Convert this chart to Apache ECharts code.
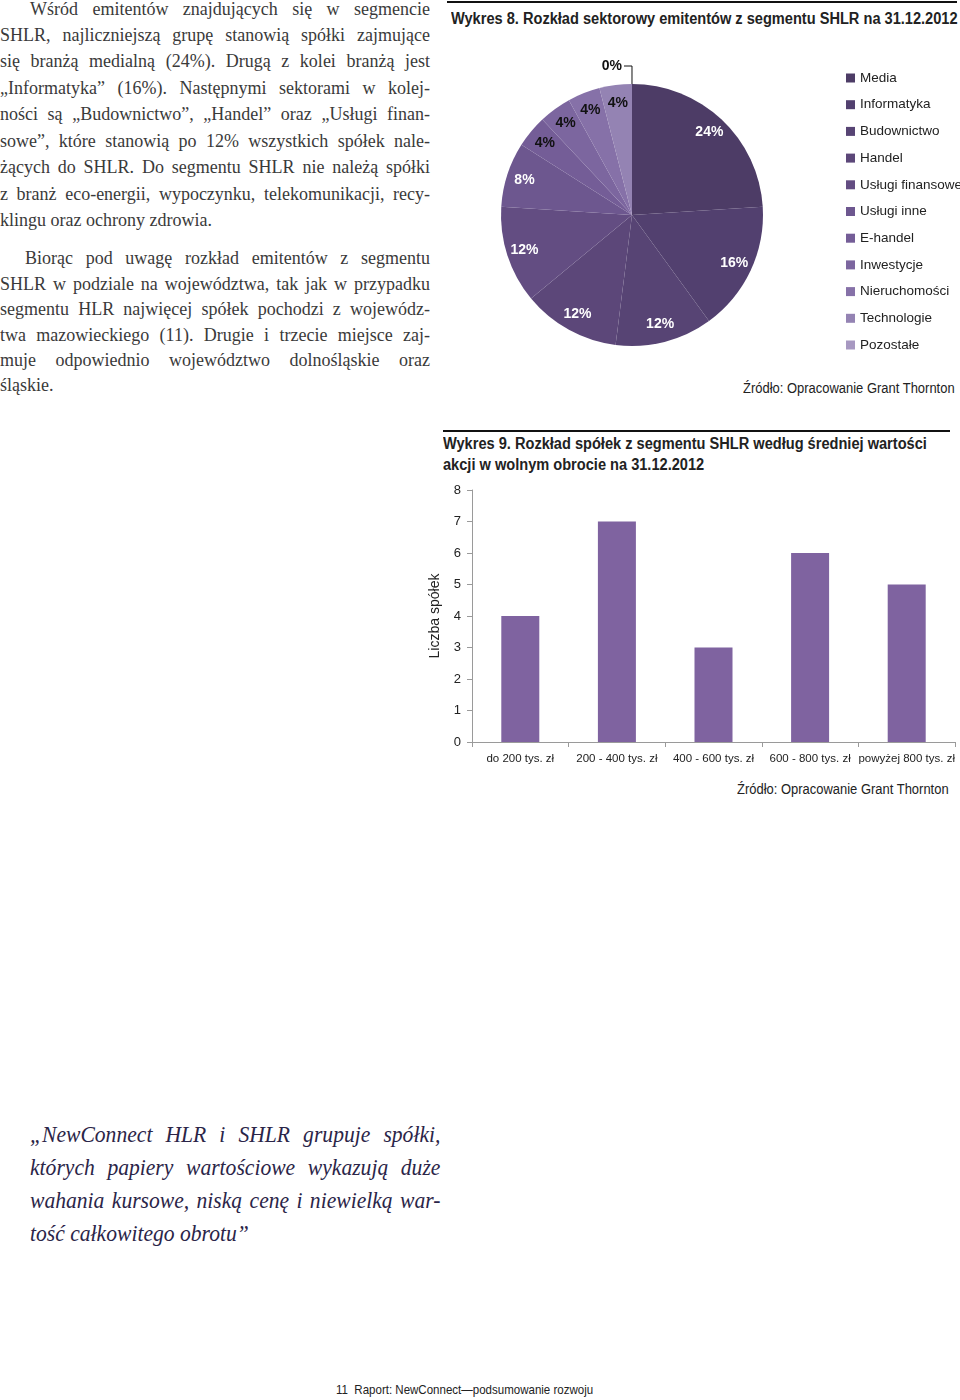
<!DOCTYPE html>
<html lang="pl">
<head>
<meta charset="utf-8">
<script src="https://cdn.jsdelivr.net/npm/echarts@6/dist/echarts.min.js"></script>
<style>
  html, body { margin:0; padding:0; background:#fff; }
  body { width:960px; height:1400px; position:relative; overflow:hidden; }
  .abs { position:absolute; }
  .para { font-family:"Liberation Serif","DejaVu Serif",serif; font-size:18px; color:#3a3a3a; }
  .line { position:absolute; left:0; width:430px; text-align:justify; text-align-last:justify; white-space:nowrap; }
  .line.last { text-align-last:left; }
  .quote { font-family:"Liberation Serif","DejaVu Serif",serif; font-style:italic; font-size:24px; color:#2b2548; }
  .qline { position:absolute; left:30px; width:456px; text-align:justify; text-align-last:justify; white-space:nowrap; transform:scaleX(0.9); transform-origin:0 50%; }
  .qline.last { text-align-last:left; }
  .sans { font-family:"Liberation Sans",Arial,sans-serif; white-space:nowrap; transform-origin:0 50%; }
  .rule { position:absolute; height:2px; background:#111; }
</style>
</head>
<body>
<div class="para">
  <div class="line" style="top:-1px;left:30px;width:400px;">Wśród emitentów znajdujących się w segmencie</div>
  <div class="line" style="top:25px;">SHLR, najliczniejszą grupę stanowią spółki zajmujące</div>
  <div class="line" style="top:51px;">się branżą medialną (24%). Drugą z kolei branżą  jest</div>
  <div class="line" style="top:78px;">„Informatyka” (16%). Następnymi sektorami w kolej-</div>
  <div class="line" style="top:104px;">ności są „Budownictwo”, „Handel” oraz „Usługi finan-</div>
  <div class="line" style="top:131px;">sowe”, które stanowią po 12% wszystkich spółek nale-</div>
  <div class="line" style="top:157px;">żących do SHLR. Do segmentu SHLR nie należą spółki</div>
  <div class="line" style="top:184px;">z branż eco-energii, wypoczynku, telekomunikacji, recy-</div>
  <div class="line last" style="top:210px;">klingu oraz ochrony zdrowia.</div>

  <div class="line" style="top:248px;left:25px;width:405px;">Biorąc pod uwagę rozkład emitentów z segmentu</div>
  <div class="line" style="top:274px;">SHLR w podziale na województwa, tak jak w przypadku</div>
  <div class="line" style="top:299px;">segmentu HLR najwięcej spółek pochodzi z wojewódz-</div>
  <div class="line" style="top:325px;">twa  mazowieckiego (11). Drugie i trzecie miejsce zaj-</div>
  <div class="line" style="top:350px;">muje odpowiednio województwo dolnośląskie oraz</div>
  <div class="line last" style="top:375px;">śląskie.</div>
</div>

<div class="rule" style="left:447px;top:1px;width:510px;"></div>
<div class="abs sans" style="left:451px;top:10px;font-size:16px;font-weight:bold;color:#222;transform:scaleX(0.912);">Wykres 8. Rozkład sektorowy emitentów z segmentu SHLR na 31.12.2012</div>
<div id="pie" class="abs" style="left:440px;top:40px;width:520px;height:330px;"></div>
<div class="abs sans" style="left:743px;top:380px;font-size:14px;color:#222;transform:scaleX(0.926);">Źródło: Opracowanie Grant Thornton</div>

<div class="rule" style="left:443px;top:430px;width:507px;"></div>
<div class="abs sans" style="left:443px;top:433px;font-size:16px;font-weight:bold;color:#222;line-height:21px;transform:scaleX(0.912);">Wykres 9. Rozkład spółek z segmentu SHLR według średniej wartości<br>akcji w wolnym obrocie na 31.12.2012</div>
<div id="bar" class="abs" style="left:420px;top:480px;width:540px;height:300px;"></div>
<div class="abs sans" style="left:737px;top:781px;font-size:14px;color:#222;transform:scaleX(0.926);">Źródło: Opracowanie Grant Thornton</div>

<div class="quote">
  <div class="qline" style="top:1121px;">„NewConnect HLR i SHLR grupuje spółki,</div>
  <div class="qline" style="top:1154px;">których papiery wartościowe wykazują duże</div>
  <div class="qline" style="top:1187px;">wahania kursowe, niską cenę i niewielką war-</div>
  <div class="qline last" style="top:1220px;">tość całkowitego obrotu”</div>
</div>

<div class="abs sans" style="left:336px;top:1382px;font-size:13px;color:#222;transform:scaleX(0.886);">11&nbsp;&nbsp;Raport: NewConnect—podsumowanie rozwoju</div>

<script>
// ---- Data: Wykres 8 (liczba spółek wg sektora, SHLR) ----
const sectors = ['Media','Informatyka','Budownictwo','Handel','Usługi finansowe','Usługi inne','E-handel','Inwestycje','Nieruchomości','Technologie','Pozostałe'];
const sectorCounts = [6, 4, 3, 3, 3, 2, 1, 1, 1, 1, 0];
const sectorColors = ['#4d3c66','#52406f','#574474','#5c4779','#634d82','#6d578f','#745d97','#7c669f','#8671a8','#9483b3','#a798c1'];

// ---- Data: Wykres 9 ----
const valueBuckets = ['do 200 tys. zł','200 - 400 tys. zł','400 - 600 tys. zł','600 - 800 tys. zł','powyżej 800 tys. zł'];
const bucketCounts = [4, 7, 3, 6, 5];
const yTicks = [0, 8, 1]; // min, max, interval

const SANS = '"Liberation Sans", Arial, sans-serif';

const pie = echarts.init(document.getElementById('pie'), null, {renderer:'canvas'});
const cx = 192, cy = 175, R = 131;
const START = 90.001;
const mainData = sectors.map((n, i) => {
  const item = { name:n, value:sectorCounts[i], itemStyle:{ color:sectorColors[i] } };
  if (sectorCounts[i] === 0) {
    item.label = { show:true, position:'outside', formatter:'{d}%', color:'#111', fontWeight:'bold', fontSize:14, fontFamily:SANS, distanceToLabelLine:2 };
    item.labelLine = { show:true, length:18, length2:8, lineStyle:{ color:'#111', width:1 } };
  }
  return item;
});
const overlayData = sectors.map((n, i) => ({
  name:n, value:sectorCounts[i],
  itemStyle:{ color:'rgba(0,0,0,0)' },
  label:{ show: sectorCounts[i] > 0, color: sectorCounts[i] <= 1 ? '#111' : '#fff' }
}));
pie.setOption({
  animation:false,
  legend:{
    orient:'vertical', left:406, top:31, padding:0,
    data:sectors, icon:'rect', itemWidth:9, itemHeight:9, itemGap:12.7,
    textStyle:{ fontFamily:SANS, fontSize:13.5, color:'#222', lineHeight:14 },
    selectedMode:false
  },
  series:[
    {
      type:'pie', center:[cx, cy], radius:[0, R], startAngle:START, clockwise:true,
      percentPrecision:0, avoidLabelOverlap:false, silent:true,
      label:{ show:false }, labelLine:{ show:false },
      data: mainData
    },
    {
      type:'pie', center:[cx, cy], radius:[R*0.68, R], startAngle:START, clockwise:true,
      percentPrecision:0, avoidLabelOverlap:false, silent:true, legendHoverLink:false,
      label:{ position:'inside', formatter:'{d}%', fontFamily:SANS, fontWeight:'bold', fontSize:14 },
      labelLine:{ show:false },
      data: overlayData
    }
  ]
});

const bar = echarts.init(document.getElementById('bar'), null, {renderer:'canvas'});
bar.setOption({
  animation:false,
  grid:{ left:46, top:10, right:5, bottom:38, containLabel:false },
  xAxis:{
    type:'category', data:valueBuckets,
    axisLine:{ lineStyle:{ color:'#9a9a9a' } },
    axisTick:{ show:true, alignWithLabel:false, length:5, lineStyle:{ color:'#9a9a9a' } },
    axisLabel:{ interval:0, color:'#222', fontFamily:SANS, fontSize:11.5, margin:11 }
  },
  yAxis:{
    type:'value', min:yTicks[0], max:yTicks[1], interval:yTicks[2],
    name:'Liczba spółek', nameLocation:'middle', nameGap:30, nameRotate:90,
    nameTextStyle:{ fontFamily:SANS, fontSize:14, color:'#222' },
    axisLine:{ show:true, lineStyle:{ color:'#9a9a9a' } },
    axisTick:{ show:true, length:5, lineStyle:{ color:'#9a9a9a' } },
    axisLabel:{ color:'#222', fontFamily:SANS, fontSize:13, margin:11 },
    splitLine:{ show:false }
  },
  series:[{
    type:'bar', data:bucketCounts, barWidth:38,
    itemStyle:{ color:'#7f63a0' }, silent:true
  }]
});
</script>
</body>
</html>
